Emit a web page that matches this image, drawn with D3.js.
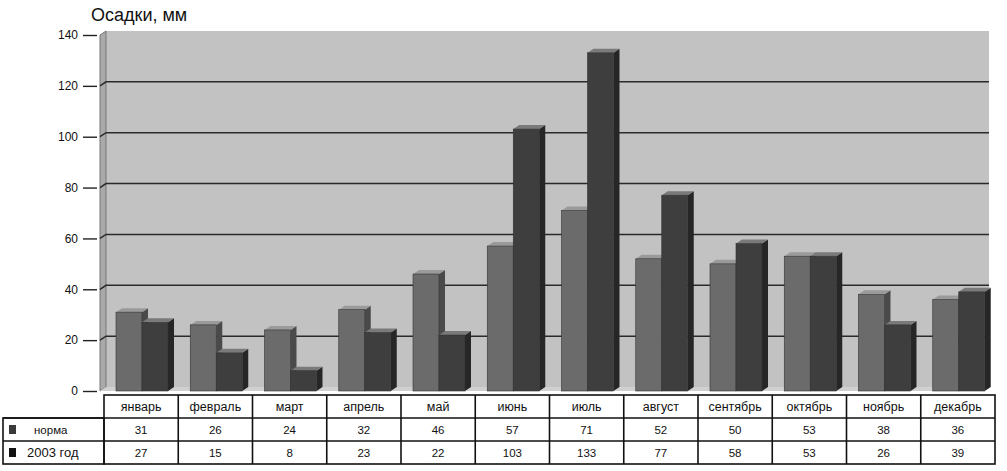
<!DOCTYPE html>
<html lang="ru">
<head>
<meta charset="UTF-8">
<title>Осадки</title>
<script src="https://d3js.org/d3.v7.min.js"></script>
<style>
  body { margin: 0; background: #fff; }
  text { font-family: "Liberation Sans", Arial, sans-serif; fill: #111; }
</style>
</head>
<body>
<script>
  const months = ["январь", "февраль", "март", "апрель", "май", "июнь", "июль",
    "август", "сентябрь", "октябрь", "ноябрь", "декабрь"];
  const seriesNames = ["норма", "2003 год"];
  const norma = [31, 26, 24, 32, 46, 57, 71, 52, 50, 53, 38, 36];
  const year2003 = [27, 15, 8, 23, 22, 103, 133, 77, 58, 53, 26, 39];
  const yTicks = [0, 20, 40, 60, 80, 100, 120, 140];

  const W = 1007, H = 471;
  const left = 104, right = 995;
  const depthX = 6, depthY = 4;
  const colors = ["#6b6b6b", "#3e3e3e"];
  const tops = ["#9a9a9a", "#7a7a7a"];
  const sides = ["#4a4a4a", "#262626"];

  const svg = d3.select("body").append("svg")
    .attr("width", W)
    .attr("height", H);

  const x = d3.scaleBand().domain(months).range([left, right]);
  const x1 = d3.scaleBand().domain(seriesNames).range([12, 64]).paddingInner(0);
  const y = d3.scaleLinear().domain([0, 140]).range([391, 35]);

  // back wall
  svg.append("rect")
    .attr("x", left - 4 + depthX)
    .attr("y", y(140) - depthY)
    .attr("width", right - left - 8)
    .attr("height", y(0) - y(140))
    .attr("fill", "#c2c2c2");

  // left wall
  svg.append("path")
    .attr("d", `M${left - 4},${y(140)} L${left - 4 + depthX},${y(140) - depthY} L${left - 4 + depthX},${y(0) - depthY} L${left - 4},${y(0)} Z`)
    .attr("fill", "#a9a9a9")
    .attr("stroke", "#777")
    .attr("stroke-width", 1);

  // floor
  svg.append("path")
    .attr("d", `M${left - 4},${y(0)} L${left - 4 + depthX},${y(0) - depthY} L${right - 12 + depthX},${y(0) - depthY} L${right - 12},${y(0)} Z`)
    .attr("fill", "#d0d0d0");

  // gridlines
  const grid = svg.append("g");
  yTicks.filter(t => t > 0 && t < 140).forEach(t => {
    grid.append("path")
      .attr("d", `M${left - 4},${y(t)} L${left - 4 + depthX},${y(t) - depthY} L${right - 12 + depthX},${y(t) - depthY}`)
      .attr("fill", "none")
      .attr("stroke", "#2a2a2a")
      .attr("stroke-width", 1.5);
  });

  // y axis
  const yAxis = svg.append("g")
    .attr("transform", "translate(97,0)")
    .call(d3.axisLeft(y).tickValues(yTicks).tickSize(14).tickPadding(5));
  yAxis.select(".domain").remove();
  yAxis.selectAll(".tick line").attr("stroke", "#222").attr("stroke-width", 1.4);
  yAxis.selectAll("text").style("font-size", "12px").attr("fill", "#111");

  // bars
  const rows = months.map((m, i) => ({ month: m, values: [norma[i], year2003[i]] }));
  const bars = svg.append("g").selectAll("g")
    .data(rows)
    .join("g")
    .attr("transform", d => `translate(${x(d.month)},0)`);

  seriesNames.forEach((s, si) => {
    const bw = x1.bandwidth();
    bars.append("path")
      .attr("d", d => {
        const bx = x1(s), by = y(d.values[si]);
        return `M${bx + bw},${by} L${bx + bw + depthX},${by - depthY} L${bx + bw + depthX},${y(0) - depthY} L${bx + bw},${y(0)} Z`;
      })
      .attr("fill", sides[si]);
    bars.append("path")
      .attr("d", d => {
        const bx = x1(s), by = y(d.values[si]);
        return `M${bx},${by} L${bx + depthX},${by - depthY} L${bx + bw + depthX},${by - depthY} L${bx + bw},${by} Z`;
      })
      .attr("fill", tops[si]);
    bars.append("rect")
      .attr("x", x1(s))
      .attr("y", d => y(d.values[si]))
      .attr("width", bw)
      .attr("height", d => y(0) - y(d.values[si]))
      .attr("fill", colors[si])
      .attr("stroke", "#333")
      .attr("stroke-width", 0.6);
  });

  // title
  svg.append("text")
    .attr("x", 91)
    .attr("y", 21)
    .style("font-size", "18px")
    .text("Осадки,  мм");

  // data table
  const t0 = 395, rowH = 23;
  const table = svg.append("g")
    .attr("fill", "none")
    .attr("stroke", "#111")
    .attr("stroke-width", 1.6);

  table.append("rect")
    .attr("x", left).attr("y", t0)
    .attr("width", right - left).attr("height", rowH * 3);
  table.append("rect")
    .attr("x", 3).attr("y", t0 + rowH)
    .attr("width", left - 3).attr("height", rowH * 2);
  [1, 2].forEach(r => {
    table.append("line")
      .attr("x1", 3).attr("x2", right)
      .attr("y1", t0 + rowH * r).attr("y2", t0 + rowH * r);
  });
  months.slice(1).forEach(m => {
    table.append("line")
      .attr("x1", x(m)).attr("x2", x(m))
      .attr("y1", t0).attr("y2", t0 + rowH * 3);
  });

  svg.append("g").selectAll("text")
    .data(months)
    .join("text")
    .attr("x", d => x(d) + x.bandwidth() / 2)
    .attr("y", t0 + 16)
    .attr("text-anchor", "middle")
    .style("font-size", "12.5px")
    .text(d => d);

  [norma, year2003].forEach((vals, si) => {
    svg.append("g").selectAll("text")
      .data(vals)
      .join("text")
      .attr("x", (d, i) => x(months[i]) + x.bandwidth() / 2)
      .attr("y", t0 + rowH * (si + 1) + 16)
      .attr("text-anchor", "middle")
      .style("font-size", "11.5px")
      .text(d => d);

    svg.append("rect")
      .attr("x", 9)
      .attr("y", t0 + rowH * (si + 1) + 7)
      .attr("width", 7)
      .attr("height", 9)
      .attr("fill", si === 0 ? "#3a3a3a" : "#111");

    svg.append("text")
      .attr("x", si === 0 ? 34 : 27)
      .attr("y", t0 + rowH * (si + 1) + 16)
      .style("font-size", si === 0 ? "11.5px" : "13px")
      .text(seriesNames[si]);
  });
</script>
</body>
</html>
